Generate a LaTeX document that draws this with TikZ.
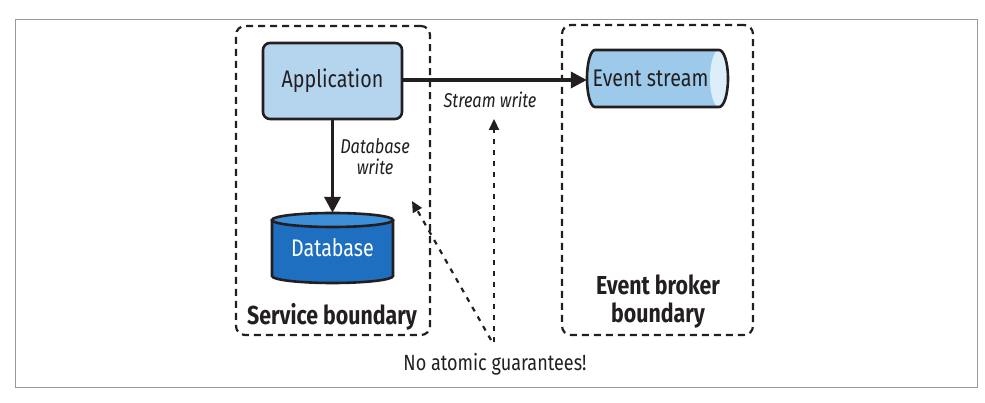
\documentclass[tikz,border=0pt]{standalone}
\usepackage{fontspec}
\setmainfont{Fira Sans}[FakeStretch=0.82]
\usetikzlibrary{arrows.meta}
\definecolor{appfill}{HTML}{B5D5EE}
\definecolor{dbfill}{HTML}{1E6FBF}
\definecolor{dbtop}{HTML}{3C8ED6}
\definecolor{esfill}{HTML}{9DCAEA}
\definecolor{escap}{HTML}{DCEEFA}
\definecolor{ink}{HTML}{231F20}
\tikzset{
  bound/.style={draw=ink, line width=2.2pt, dash pattern=on 7pt off 5pt, rounded corners=9pt},
  appbox/.style={draw=ink, line width=2.6pt, fill=appfill, rounded corners=7pt, font=\fontsize{24}{28}\selectfont, text=ink},
  mainarrow/.style={draw=ink, line width=3.6pt, -{Triangle[length=16pt,width=16pt]}},
  dotarrow/.style={draw=ink, line width=2.2pt, dash pattern=on 5pt off 6pt, -{Triangle[length=11pt,width=10pt]}},
  lbl/.style={font=\fontsize{20}{21}\selectfont\itshape, text=ink, align=center},
  bnd/.style={font=\fontsize{26}{28}\selectfont\bfseries, text=ink, align=center},
}
\begin{document}
\begin{tikzpicture}[x=1pt,y=1pt]
\useasboundingbox (0,0) rectangle (985,403);
\draw[draw=gray!80, line width=1pt] (15,15) rectangle (977,383);
% boundaries
\node[bound, minimum width=194pt, minimum height=309pt] (svc) at (333,222.5) {};
\node[bound, minimum width=191pt, minimum height=310pt] (brk) at (657.5,223) {};
\node[bnd] (svclbl) at (332,86) {Service boundary};
\node[bnd] (brklbl) at (658,101) {Event broker\\boundary};
% application
\node[appbox, minimum width=139pt, minimum height=76pt] (app) at (332.5,322) {Application};
% database cylinder
\fill[dbfill] (272,183) -- (272,127) arc[start angle=180,end angle=360,x radius=60.5,y radius=7] -- (393,183) -- cycle;
\draw[ink, line width=2.6pt] (272,183) -- (272,127) arc[start angle=180,end angle=360,x radius=60.5,y radius=7] -- (393,183);
\filldraw[fill=dbtop, draw=ink, line width=2.6pt] (332.5,183) ellipse[x radius=60.5,y radius=7];
\node[font=\fontsize{24}{28}\selectfont, text=white, minimum width=121pt, minimum height=70pt] (db) at (332.5,155) {Database};
% event stream cylinder
\fill[esfill] (595,353) -- (719,353) arc[start angle=90,end angle=-90,x radius=9,y radius=28.5] -- (595,296) arc[start angle=270,end angle=90,x radius=8,y radius=28.5] -- cycle;
\fill[escap] (719,324.5) ellipse[x radius=9,y radius=28.5];
\draw[ink, line width=2.6pt] (595,353) -- (719,353) arc[start angle=90,end angle=-90,x radius=9,y radius=28.5] -- (595,296) arc[start angle=270,end angle=90,x radius=8,y radius=28.5] -- cycle;
\node[font=\fontsize{24}{28}\selectfont, text=ink, minimum width=141pt, minimum height=57pt] (es) at (657.5,324.5) {\hspace*{-14pt}Event stream};
% main arrows
\draw[mainarrow] (app.east |- 0,323) -- (es.west |- 0,323);
\draw[mainarrow] (app.south) -- (db.north);
\node[lbl] (dbw) at (375,246) {Database\\write};
\node[lbl] (sw) at (490,303) {Stream write};
% no atomic guarantees
\node[font=\fontsize{22}{24}\selectfont, text=ink] (nag) at (495,39) {No atomic guarantees!};
\coordinate (s1) at (494,61);
\coordinate (t1) at (494,284);
\coordinate (s2) at (491,63);
\coordinate (t2) at (412,202);
\draw[dotarrow] (s1) -- (t1);
\draw[dotarrow] (s2) -- (t2);
\end{tikzpicture}
\end{document}
